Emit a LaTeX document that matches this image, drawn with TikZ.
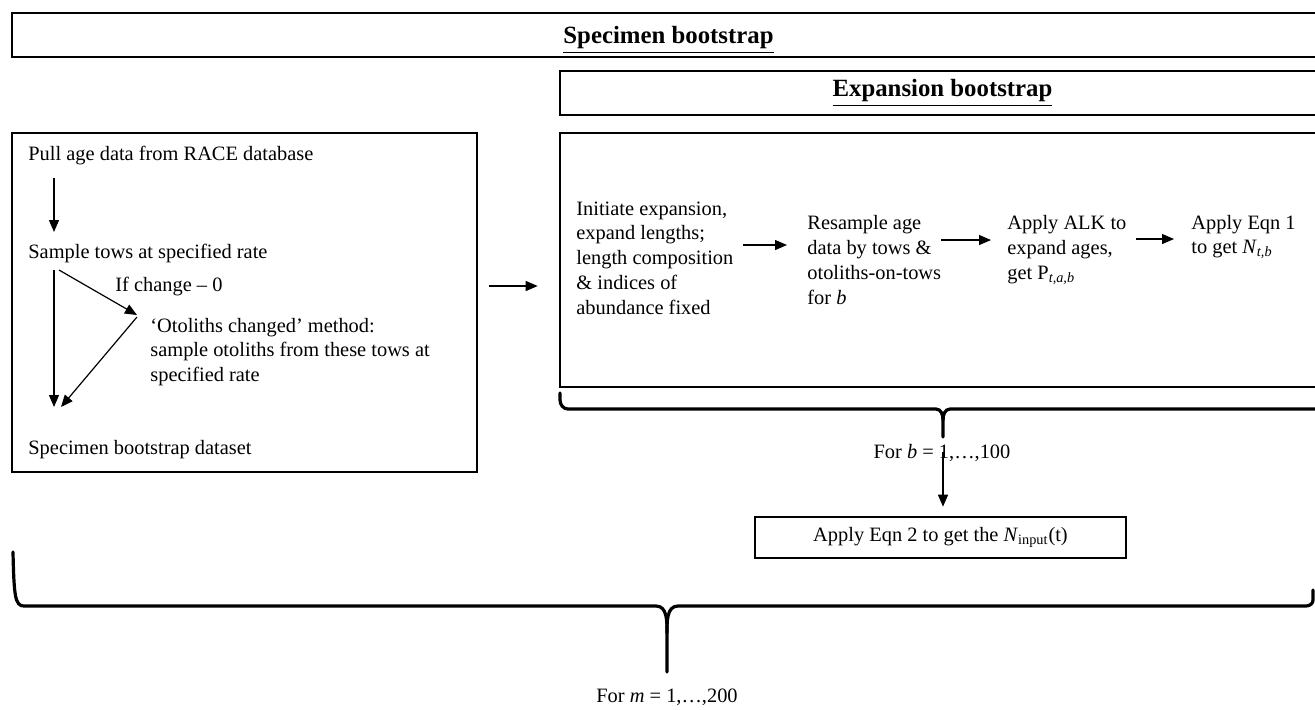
\documentclass[tikz,border=0pt]{standalone}
\usepackage{fontspec}
\setmainfont{Liberation Serif}
\usepackage{tikz}
\usetikzlibrary{arrows.meta, positioning, calc}

\begin{document}
\begin{tikzpicture}[x=0.5pt, y=-0.5pt,
  framebox/.style={draw, line width=1.3pt, inner sep=0pt},
  boxtitle/.style={font=\fontsize{12.4}{14}\selectfont\bfseries},
  steptext/.style={font=\fontsize{10.2}{12.4}\selectfont, inner sep=0pt, align=left, anchor=west},
  flowarrow/.style={line width=0.6pt, -{Triangle[length=6pt, width=5pt]}},
  bracket/.style={line width=1.6pt, line cap=round}]
  \useasboundingbox (0,0) rectangle (1315,709);
  \clip (0,0) rectangle (1315,709);

  % outer and inner loops
  \node[framebox, minimum width=656.5pt, minimum height=22pt] (spec) at (668.5,35) {};
  \node[boxtitle] (spectitle) at ([yshift=-2.5pt]spec.center) {\underline{Specimen bootstrap}};
  \node[framebox, boxtitle, minimum width=382.5pt, minimum height=22pt] (expn) at (942.5,93) {\underline{Expansion bootstrap}};

  % specimen side
  \node[framebox, minimum width=232.5pt, minimum height=169.5pt] (lbox) at (244.5,302.5) {};
  \node[steptext] (pull) at (28,156) {Pull age data from RACE database};
  \node[steptext] (tows) at (28,253) {Sample tows at specified rate};
  \node[steptext] (ifchg) at (115,287) {If change -- 0};
  \node[steptext] (otol) at (150,352) {`Otoliths changed' method:\\sample otoliths from these tows at\\specified rate};
  \node[steptext] (dataset) at (28,450) {Specimen bootstrap dataset};

  \draw[flowarrow] ($(pull.west)+(26,22)$) -- ($(tows.west)+(26,-21)$);
  \draw[flowarrow] ($(tows.west)+(26,17)$) -- ($(dataset.west)+(26,-43)$);
  \draw[flowarrow] ($(tows.west)+(31,17)$) -- ($(otol.west)+(-13,-37)$);
  \draw[flowarrow] ($(otol.west)+(-13,-35)$) -- ($(dataset.west)+(33,-43)$);

  % expansion side
  \node[framebox, minimum width=382.5pt, minimum height=127pt] (rbox) at (942.5,260) {};
  \draw[flowarrow] ($(lbox.east)+(11,-16.5)$) -- ($(rbox.west)+(-21,26)$);

  \node[steptext] (init) at (576,258) {Initiate expansion,\\expand lengths;\\length composition\\\& indices of\\abundance fixed};
  \node[steptext] (resample) at (807,260) {Resample age\\data by tows \&\\otoliths-on-tows\\for \textit{b}};
  \node[steptext] (alk) at (1007,250) {Apply ALK to\\expand ages,\\get P\textsubscript{\textit{t,a,b}}};
  \node[steptext] (eqnone) at (1191,237) {Apply Eqn 1\\to get \textit{N}\textsubscript{\textit{t,b}}};

  \draw[flowarrow] ($(init.west)+(167,-13)$) -- ($(resample.west)+(-20,-15)$);
  \draw[flowarrow] ($(resample.west)+(134,-20)$) -- ($(alk.west)+(-16,-10)$);
  \draw[flowarrow] ($(alk.west)+(129,-11)$) -- ($(eqnone.west)+(-17,2)$);

  % brace over b
  \draw[bracket] (560,393) -- (560,400) to[out=-90,in=180] (568,409) -- (936,409) to[out=0,in=90] (943,420) -- (943,437) coordinate (btip);
  \draw[bracket] (1325,409) -- (950,409) to[out=180,in=90] (943,420);
  \node[steptext, anchor=center] (forb) at (942,453) {For \textit{b} = 1,…,100};

  \node[framebox, steptext, anchor=center, minimum width=185.5pt, minimum height=20.5pt] (eqntwo) at (940.5,537.5) {Apply Eqn 2 to get the \textit{N}\textsubscript{input}(t)};
  \draw[flowarrow] ($(btip)+(0,15)$) -- ($(eqntwo.north)+(2.5,-9)$);

  % brace over m
  \draw[bracket] (13,552) .. controls (14,596) and (15,606) .. (24,606) -- (656,606) to[out=0,in=90] (667,633) -- (667,672) coordinate (mtip);
  \draw[bracket] (667,633) to[out=90,in=180] (678,606) -- (1306,606) to[out=0,in=-90] (1313,600) -- (1313,590);
  \node[steptext, anchor=center] (form) at ($(mtip)+(0,25)$) {For \textit{m} = 1,…,200};
\end{tikzpicture}
\end{document}
